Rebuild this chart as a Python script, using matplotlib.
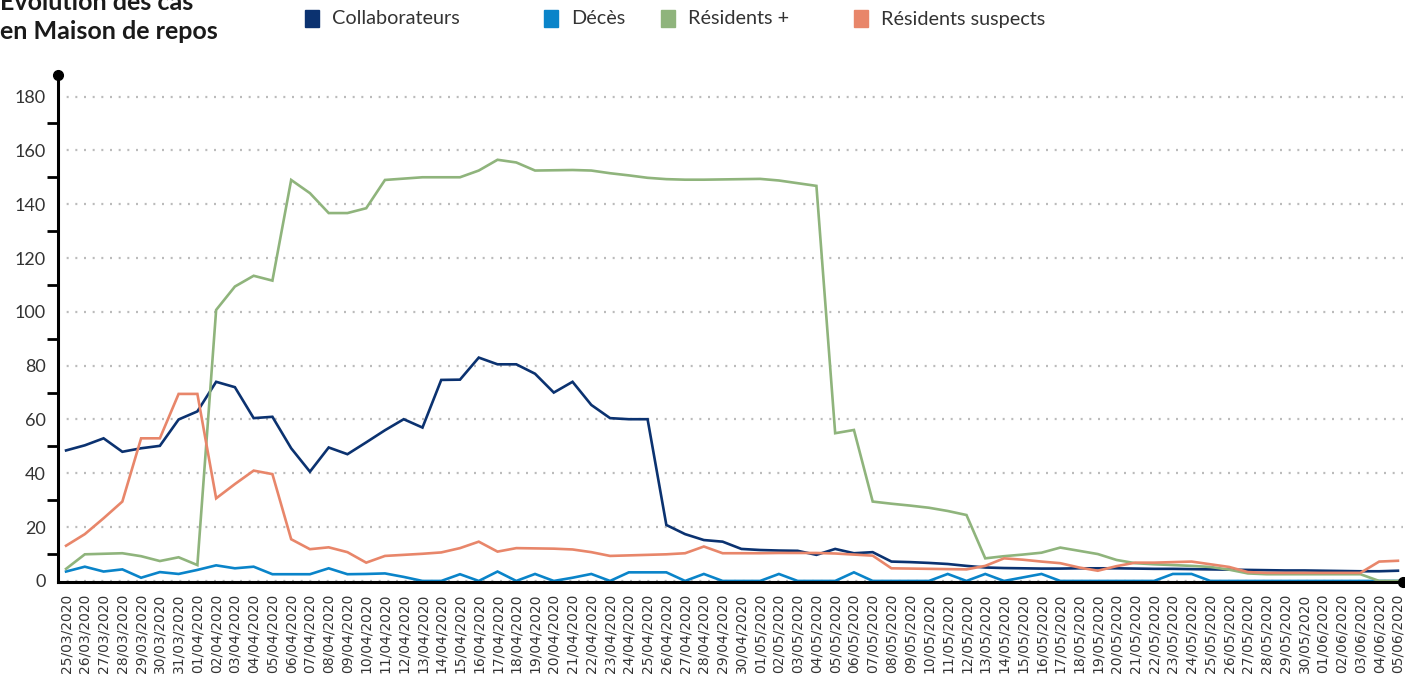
import matplotlib
matplotlib.use("Agg")
import matplotlib.pyplot as plt
from matplotlib.patches import Rectangle

dates = (["%02d/03/2020" % d for d in range(25, 32)]
         + ["%02d/04/2020" % d for d in range(1, 31)]
         + ["%02d/05/2020" % d for d in range(1, 31)]
         + ["%02d/06/2020" % d for d in range(1, 6)])

collaborateurs = [48.5, 50.4, 53.0, 48.0, 49.3, 50.2, 60.0, 63.0, 74.0, 72.0, 60.5, 61.0,
                  49.3, 40.6, 49.6, 47.1, 51.5, 56.0, 60.1, 57.0, 74.7, 74.8, 83.0, 80.5,
                  80.5, 77.0, 70.0, 74.0, 65.4, 60.5, 60.1, 60.1, 20.8, 17.4, 15.2, 14.6,
                  11.9, 11.5, 11.3, 11.2, 9.7, 11.9, 10.3, 10.7, 7.2, 7.0, 6.7, 6.3,
                  5.6, 5.0, 4.8, 4.7, 4.6, 4.6, 4.7, 4.7, 4.7, 4.6, 4.5, 4.5,
                  4.4, 4.3, 4.2, 4.1, 4.0, 3.9, 3.9, 3.8, 3.7, 3.6, 3.6, 3.8]

deces = [3.5, 5.3, 3.5, 4.3, 1.2, 3.3, 2.6, 4.1, 5.8, 4.7, 5.3, 2.5,
         2.5, 2.5, 4.7, 2.5, 2.6, 2.8, 1.5, 0, 0, 2.5, 0, 3.5,
         0, 2.6, 0, 1.2, 2.6, 0, 3.2, 3.2, 3.2, 0, 2.6, 0,
         0, 0, 2.6, 0, 0, 0, 3.2, 0, 0, 0, 0, 2.6,
         0, 2.6, 0, 1.3, 2.6, 0, 0, 0, 0, 0, 0, 2.6,
         2.6, 0, 0, 0, 0, 0, 0, 0, 0, 0, 0, 0]

residents_pos = [4.5, 9.9, 10.1, 10.3, 9.2, 7.4, 8.8, 5.9, 100.7, 109.4, 113.4, 111.6,
                 149.0, 144.1, 136.7, 136.7, 138.5, 149.0, 149.5, 150.0, 150.0, 150.0, 152.5, 156.5,
                 155.5, 152.5, 152.6, 152.7, 152.5, 151.5, 150.7, 149.8, 149.3, 149.1, 149.1, 149.2,
                 149.3, 149.4, 148.8, 147.8, 146.8, 54.9, 56.1, 29.5, 28.7, 28.0, 27.2, 26.0,
                 24.5, 8.4, 9.2, 9.8, 10.5, 12.4, 11.2, 10.0, 7.8, 6.6, 6.2, 5.9,
                 5.6, 5.2, 4.2, 2.8, 2.5, 2.5, 2.5, 2.5, 2.5, 2.5, 0, 0]

residents_susp = [13.1, 17.4, 23.3, 29.5, 53.0, 53.0, 69.5, 69.5, 30.7, 36.0, 41.0, 39.7,
                  15.5, 11.8, 12.5, 10.7, 6.8, 9.3, 9.7, 10.1, 10.6, 12.2, 14.6, 10.9,
                  12.2, 12.1, 12.0, 11.7, 10.7, 9.3, 9.5, 9.7, 9.9, 10.3, 12.8, 10.3,
                  10.3, 10.3, 10.4, 10.4, 10.4, 10.2, 9.8, 9.4, 4.7, 4.6, 4.5, 4.4,
                  4.3, 5.6, 8.4, 7.9, 7.2, 6.6, 5.0, 3.8, 5.5, 6.8, 6.8, 7.0,
                  7.2, 6.2, 5.2, 3.3, 3.0, 3.0, 3.0, 3.0, 3.0, 3.0, 7.2, 7.5]

series_names = ["Collaborateurs", "Décès", "Résidents +", "Résidents suspects"]
series_colors = ["#0b3270", "#0a84c9", "#8fb47c", "#e8866a"]
series = [collaborateurs, deces, residents_pos, residents_susp]

W, H = 1405, 683
fig = plt.figure(figsize=(W / 100, H / 100), dpi=100)
ax = fig.add_axes([58 / W, 1 - 582.3 / H, (1403 - 58) / W, (582.3 - 75) / H])

x = list(range(len(dates)))
for vals, col in zip(series, series_colors):
    ax.plot(x, vals, color=col, lw=1.9, solid_joinstyle="miter", zorder=3)

ax.set_xlim(-0.43, 71.27)
ax.set_ylim(-0.5, 188)
ax.set_yticks(range(0, 181, 20))
ax.set_yticks(range(10, 180, 20), minor=True)
ax.tick_params(axis="y", which="major", length=0, pad=9, labelsize=13, labelcolor="#333333")
ax.tick_params(axis="y", which="minor", length=8, width=2.0, direction="out", color="black")
for lab in ax.get_yticklabels():
    lab.set_family("Lato")
ax.set_xticks(x)
ax.set_xticklabels(dates, rotation=90, fontsize=10, color="#333333", family="DejaVu Sans")
ax.tick_params(axis="x", length=0, pad=8)

ax.grid(axis="y", which="major", color="#bbbbbb", lw=1.6, ls=(0, (0.9, 3.0)))
ax.set_axisbelow(True)

for s in ("top", "right"):
    ax.spines[s].set_visible(False)
for s in ("left", "bottom"):
    ax.spines[s].set_linewidth(2.2)
    ax.spines[s].set_color("black")
    ax.spines[s].set_zorder(4)
ax.plot([0], [1], "o", color="black", ms=7, transform=ax.transAxes, clip_on=False, zorder=5)
ax.plot([1], [0], "o", color="black", ms=7, transform=ax.transAxes, clip_on=False, zorder=5)

# title (first line is partly cut at the top edge, as in the reference)
fig.text(0.0, 1 - 10 / H, "Évolution des cas", fontsize=18, fontweight="bold",
         family="Lato", color="#1a1a1a", va="baseline", ha="left")
fig.text(0.0, 1 - 39 / H, "en Maison de repos", fontsize=18, fontweight="bold",
         family="Lato", color="#1a1a1a", va="baseline", ha="left")

# legend
leg_sq_x = [305, 544, 661, 854]
for sx, name, col in zip(leg_sq_x, series_names, series_colors):
    fig.patches.append(Rectangle((sx / W, 1 - 27 / H), 14 / W, 17 / H,
                                 transform=fig.transFigure, color=col, figure=fig))
    fig.text((sx + 27) / W, 1 - 19 / H, name, fontsize=14.3, family="Lato",
             color="#333333", va="center", ha="left")

fig.savefig("out.png", dpi=100)
